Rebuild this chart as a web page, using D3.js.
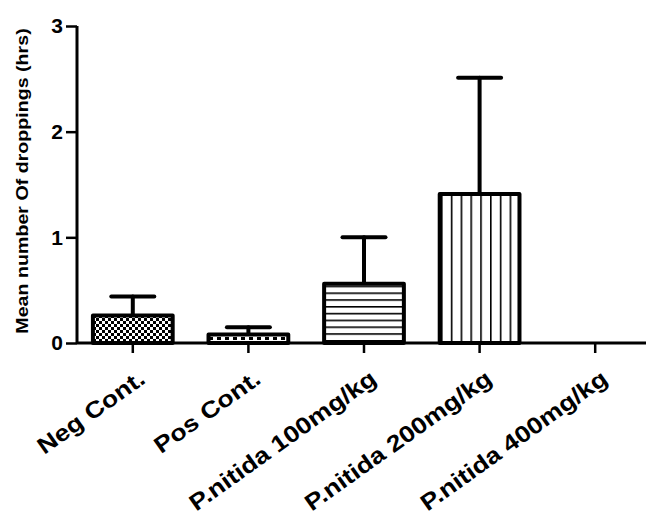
<!DOCTYPE html>
<html>
<head>
<meta charset="utf-8">
<script src="https://cdn.jsdelivr.net/npm/d3@7/dist/d3.min.js"></script>
<style>
  html, body { margin: 0; padding: 0; background: #fff; }
  svg { display: block; }
  text { font-family: Arial, "Liberation Sans", sans-serif; font-weight: bold; fill: #000; }
</style>
</head>
<body>
<svg id="chart" width="646" height="519"></svg>
<script>
// Groups, group means and upper SEM
const categories = ["Neg Cont.", "Pos Cont.", "P.nitida 100mg/kg", "P.nitida 200mg/kg", "P.nitida 400mg/kg"];
const means = [0.26, 0.08, 0.56, 1.41, 0];
const errors = [0.18, 0.07, 0.44, 1.10, 0];
const patternIds = ["checker", "dashes", "hlines", "vlines", "none"];
const yTicks = [0, 1, 2, 3];
const yLabel = "Mean number Of droppings (hrs)";

const svg = d3.select("#chart");
const x0 = 77, y0 = 343, yTop = 26;

const x = d3.scaleBand().domain(categories).range([75, 653]).paddingInner(0.31).paddingOuter(0.155);
const y = d3.scaleLinear().domain([0, 3]).range([y0, yTop]);

// Fill patterns
const defs = svg.append("defs");
const checker = defs.append("pattern").attr("id", "checker").attr("patternUnits", "userSpaceOnUse")
  .attr("width", 6).attr("height", 6);
checker.append("rect").attr("width", 6).attr("height", 6).attr("fill", "#fff");
checker.append("rect").attr("width", 3).attr("height", 3).attr("fill", "#000");
checker.append("rect").attr("x", 3).attr("y", 3).attr("width", 3).attr("height", 3).attr("fill", "#000");

const dashes = defs.append("pattern").attr("id", "dashes").attr("patternUnits", "userSpaceOnUse")
  .attr("width", 8).attr("height", 7).attr("y", y0 - 7);
dashes.append("rect").attr("width", 8).attr("height", 7).attr("fill", "#fff");
dashes.append("rect").attr("x", 1).attr("y", 1).attr("width", 4).attr("height", 3).attr("fill", "#000");

const hl = defs.append("pattern").attr("id", "hlines").attr("patternUnits", "userSpaceOnUse")
  .attr("width", 8).attr("height", 6.8);
hl.append("rect").attr("width", 8).attr("height", 6.8).attr("fill", "#fff");
hl.append("rect").attr("y", 0).attr("width", 8).attr("height", 1.6).attr("fill", "#000");

const vl = defs.append("pattern").attr("id", "vlines").attr("patternUnits", "userSpaceOnUse")
  .attr("width", 9.8).attr("height", 8).attr("x", 441);
vl.append("rect").attr("width", 9.8).attr("height", 8).attr("fill", "#fff");
vl.append("rect").attr("x", 0).attr("width", 1.6).attr("height", 8).attr("fill", "#000");

const data = categories.map((c, i) => ({ c, m: means[i], e: errors[i], p: patternIds[i] }));

// Error bars (upper only)
const capW = 43;
const eb = svg.append("g").attr("stroke", "#000").attr("stroke-width", 4).attr("stroke-linecap", "round");
data.filter(d => d.m > 0).forEach(d => {
  const cx = x(d.c) + x.bandwidth() / 2;
  eb.append("line").attr("x1", cx).attr("x2", cx).attr("y1", y(d.m)).attr("y2", y(d.m + d.e));
  eb.append("line").attr("x1", cx - capW / 2).attr("x2", cx + capW / 2).attr("y1", y(d.m + d.e)).attr("y2", y(d.m + d.e));
});

// Bars
svg.append("g").selectAll("rect").data(data.filter(d => d.m > 0)).join("rect")
  .attr("x", d => x(d.c))
  .attr("y", d => y(d.m))
  .attr("width", x.bandwidth())
  .attr("height", d => y0 - y(d.m))
  .attr("fill", d => `url(#${d.p})`)
  .attr("stroke", "#000")
  .attr("stroke-width", 4)
  .attr("stroke-linejoin", "round");

// Y axis
const yAxis = svg.append("g").attr("transform", `translate(${x0},0)`)
  .call(d3.axisLeft(y).tickValues(yTicks).tickFormat(d3.format("d")).tickSize(11).tickPadding(3));
yAxis.select(".domain").attr("stroke-width", 3).attr("d", `M0,${y0}V${yTop}`);
yAxis.selectAll(".tick line").attr("stroke-width", 2.5);
yAxis.selectAll(".tick text").attr("font-size", 21).attr("font-family", "Arial, 'Liberation Sans', sans-serif").attr("font-weight", "bold");

// X axis
const xAxis = svg.append("g").attr("transform", `translate(0,${y0})`)
  .call(d3.axisBottom(x).tickSize(10).tickFormat(""));
xAxis.select(".domain").attr("stroke-width", 3).attr("d", `M${x0},0H646`);
xAxis.selectAll(".tick line").attr("stroke-width", 2.5);

// Slanted category labels, widened along the baseline
svg.append("g").selectAll("text").data(categories).join("text")
  .attr("text-anchor", "end")
  .attr("font-size", 23)
  .attr("transform", c => `translate(${x(c) + x.bandwidth() / 2 + 14},${y0 + 39}) rotate(-35.5) scale(1.16,1)`)
  .text(c => c);

// Y axis title
svg.append("text")
  .attr("transform", `translate(28,181) rotate(-90) scale(1.155,1)`)
  .attr("text-anchor", "middle")
  .attr("font-size", 17)
  .text(yLabel);
</script>
</body>
</html>
